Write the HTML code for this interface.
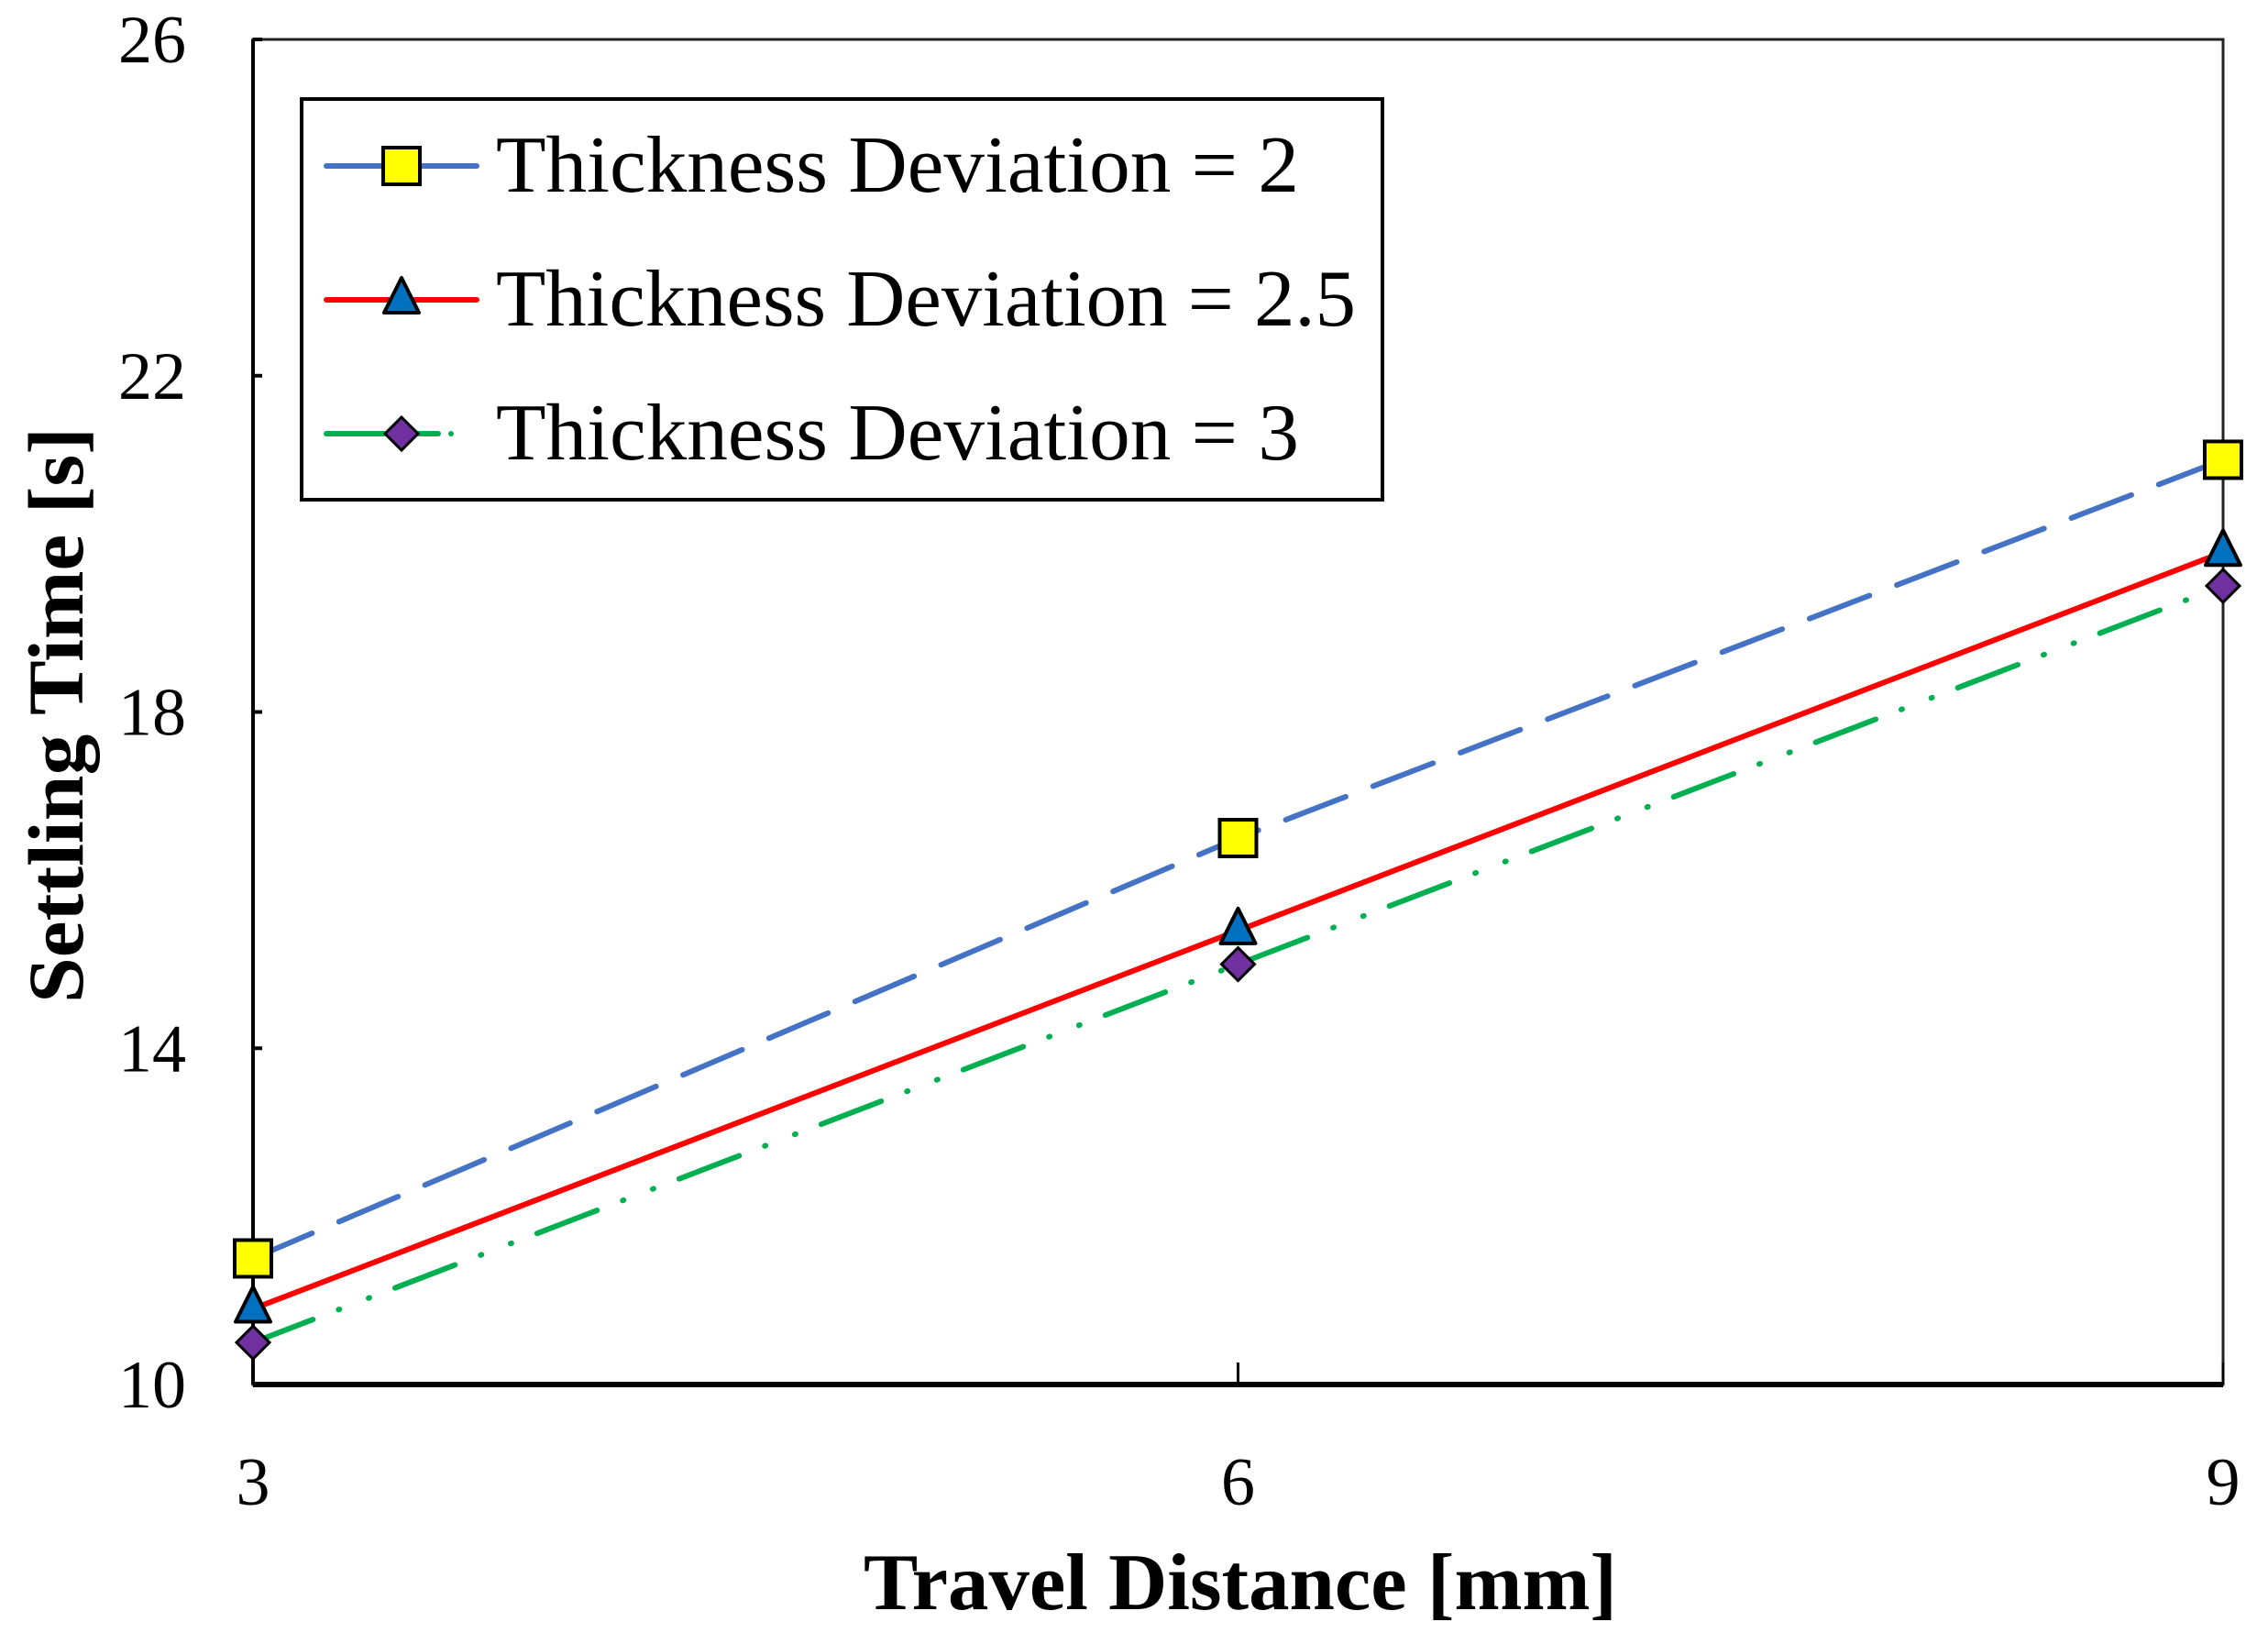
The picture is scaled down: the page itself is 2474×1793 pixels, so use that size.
<!DOCTYPE html>
<html><head><meta charset="utf-8"><style>
html,body{margin:0;padding:0;background:#fff;}
svg{display:block;font-family:"Liberation Serif",serif;}
</style></head><body>
<svg id="chart" width="2474" height="1793" viewBox="0 0 2474 1793" xmlns="http://www.w3.org/2000/svg">
<g id="plot"></g>
</svg>
<script>
const categories = [3, 6, 9];
const series1 = [11.5, 16.5, 21.0];
const series2 = [10.9, 15.4, 19.9];
const series3 = [10.5, 15.0, 19.5];
const yTicks = [10, 14, 18, 22, 26];
const xTicks = [3, 6, 9];
const seriesNames = ["Thickness Deviation = 2", "Thickness Deviation = 2.5", "Thickness Deviation = 3"];

const NS = "http://www.w3.org/2000/svg";
const L = 276, R = 2425, T = 43, B = 1510;
const xs = v => L + (v - 3) / 6 * (R - L);
const ys = v => B - (v - 10) / 16 * (B - T);
const g = document.getElementById('plot');
function mk(tag, attrs, parent) {
  const e = document.createElementNS(NS, tag);
  for (const k in attrs) e.setAttribute(k, attrs[k]);
  (parent || g).appendChild(e);
  return e;
}

let e = mk('rect', {x: L, y: T, width: R - L, height: B - T, fill: 'none', stroke: '#222', 'stroke-width': 3});


e = mk('line', {x1: L, y1: B, x2: R, y2: B, stroke: '#000', 'stroke-width': 6});


e = mk('line', {x1: L, y1: T, x2: L, y2: B, stroke: '#000', 'stroke-width': 4});



yTicks.forEach(v => {
  let t = mk('line', {x1: L, y1: ys(v), x2: L + 10, y2: ys(v), stroke: '#000', 'stroke-width': 4});
  
  
  let tx = mk('text', {x: 203, y: ys(v) + 25, 'font-size': 74, 'text-anchor': 'end', fill: '#000'});
  tx.textContent = v;
  
  
});
xTicks.forEach(v => {
  let t = mk('line', {x1: xs(v), y1: B, x2: xs(v), y2: B - 24, stroke: '#000', 'stroke-width': 3});
  
  
  let tx = mk('text', {x: xs(v), y: 1641, 'font-size': 74, 'text-anchor': 'middle', fill: '#000'});
  tx.textContent = v;
  
  
});

let xt = mk('text', {x: 1353, y: 1755, 'font-size': 88, 'font-weight': 'bold', 'text-anchor': 'middle', textLength: 822, lengthAdjust: 'spacingAndGlyphs'});
xt.textContent = 'Travel Distance [mm]';


let yt = mk('text', {x: 0, y: 0, 'font-size': 86, 'font-weight': 'bold', 'text-anchor': 'middle', transform: 'translate(90,780) rotate(-90)', textLength: 628, lengthAdjust: 'spacingAndGlyphs'});
yt.textContent = 'Settling Time [s]';



const styles = [
  {color: '#4472C4', dash: '70 32', marker: 'square', fill: '#FFFF00'},
  {color: '#FF0000', dash: 'none', marker: 'triangle', fill: '#0070C0'},
  {color: '#00B050', dash: '70 30 1 34 1 30', marker: 'diamond', fill: '#7030A0'}
];
function marker(type, x, y, fill, parent) {
  let m;
  if (type === 'square') m = mk('rect', {x: x - 20, y: y - 20, width: 40, height: 40, fill: fill, stroke: '#000', 'stroke-width': 4}, parent);
  else if (type === 'triangle') m = mk('polygon', {points: `${x},${y - 24} ${x + 19},${y + 14} ${x - 19},${y + 14}`, fill: fill, stroke: '#000', 'stroke-width': 4, 'stroke-linejoin': 'round'}, parent);
  else m = mk('polygon', {points: `${x},${y - 18} ${x + 18},${y} ${x},${y + 18} ${x - 18},${y}`, fill: fill, stroke: '#000', 'stroke-width': 3}, parent);
  
  
  return m;
}
[series1, series2, series3].forEach((s, i) => {
  const st = styles[i];
  const pts = s.map((v, j) => xs(categories[j]) + ',' + ys(v)).join(' ');
  let pl = mk('polyline', {points: pts, fill: 'none', stroke: st.color, 'stroke-width': 6, 'stroke-linecap': 'round', 'stroke-dasharray': st.dash});
  
  
});
[series1, series2, series3].forEach((s, i) => {
  s.forEach((v, j) => marker(styles[i].marker, xs(categories[j]), ys(v), styles[i].fill));
});

const lg = mk('g', {});


let lb = mk('rect', {x: 329, y: 108, width: 1179, height: 437, fill: '#fff', stroke: '#000', 'stroke-width': 4}, lg);


const rowY = [181, 327, 473];
const textLens = [876, 938, 876];
seriesNames.forEach((n, i) => {
  const st = styles[i];
  const ent = mk('g', {}, lg);
  
  
  let ln = mk('line', {x1: 356, y1: rowY[i], x2: i === 2 ? 478 : 520, y2: rowY[i], stroke: st.color, 'stroke-width': 6, 'stroke-linecap': 'round', 'stroke-dasharray': 'none'}, ent);
  
  
  if (i === 2) {
    let d = mk('circle', {cx: 492, cy: rowY[i], r: 3, fill: st.color}, ent);
    
    
  }
  marker(st.marker, 438, rowY[i], st.fill, ent);
  let tx = mk('text', {x: 541, y: rowY[i] + 28, 'font-size': 88, textLength: textLens[i], lengthAdjust: 'spacingAndGlyphs'}, ent);
  tx.textContent = n;
  
  
});
</script>
</body></html>
